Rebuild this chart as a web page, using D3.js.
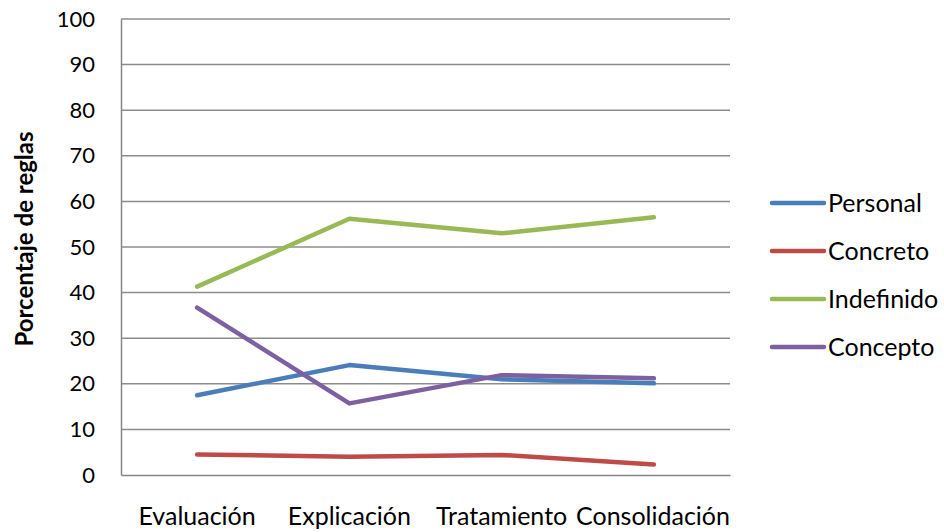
<!DOCTYPE html>
<html>
<head>
<meta charset="utf-8">
<script src="https://cdn.jsdelivr.net/npm/d3@7"></script>
<style>
  body { margin: 0; background: #fff; }
  text { font-family: Lato, "Open Sans", sans-serif; fill: #000; }
</style>
</head>
<body>
<svg id="chart" width="944" height="532"></svg>
<script>
// chart data
var categories = ['Evaluación', 'Explicación', 'Tratamiento', 'Consolidación'];
var seriesNames = ['Personal', 'Concreto', 'Indefinido', 'Concepto'];
var personal = [17.5, 24.1, 21.0, 20.1];
var concreto = [4.5, 4.0, 4.4, 2.3];
var indefinido = [41.3, 56.2, 53.0, 56.5];
var concepto = [36.7, 15.7, 21.9, 21.2];
var yTicks = [0, 10, 20, 30, 40, 50, 60, 70, 80, 90, 100];
var colors = ['#4A7EBB', '#BE4B48', '#98B954', '#7D60A0'];

var series = [personal, concreto, indefinido, concepto].map(function (vals, i) {
  return {name: seriesNames[i], values: vals, color: colors[i]};
});

var margin = {top: 19, left: 121, right: 214, bottom: 57};
var width = 944 - margin.left - margin.right;
var height = 532 - margin.top - margin.bottom;

var svg = d3.select('#chart');
var g = svg.append('g')
  .attr('transform', 'translate(' + margin.left + ',' + margin.top + ')');

var x = d3.scaleBand().domain(categories).range([0, width]);
var y = d3.scaleLinear().domain([0, 100]).range([height, 0]);

// gridlines
g.selectAll('.grid')
  .data(yTicks.slice(1))
  .enter()
  .append('line')
  .attr('x1', 0)
  .attr('x2', width)
  .attr('y1', d => y(d))
  .attr('y2', d => y(d))
  .attr('stroke', '#8c8c8c')
  .attr('stroke-width', 1.5);

// y axis
var yAxis = g.append('g')
  .call(d3.axisLeft(y).tickValues(yTicks).tickSize(0).tickPadding(26));
yAxis.select('.domain').attr('stroke', '#868686').attr('stroke-width', 1.5);
yAxis.selectAll('text')
  .style('font-size', '22px')
  .style('font-family', 'Lato, sans-serif');

// x axis
var xAxis = g.append('g')
  .attr('transform', 'translate(0,' + height + ')')
  .call(d3.axisBottom(x).tickSize(0).tickPadding(32));
xAxis.select('.domain').attr('stroke', '#868686').attr('stroke-width', 1.5);
xAxis.selectAll('text')
  .style('font-size', '25px')
  .style('font-family', 'Lato, sans-serif');

// keep the last label inside the plot, push earlier ones left if they collide
var labels = xAxis.selectAll('.tick').nodes();
var limit = width;
for (var i = labels.length - 1; i >= 0; i--) {
  var t = d3.select(labels[i]).select('text');
  var w = t.node().getComputedTextLength();
  var cx = x(categories[i]) + x.bandwidth() / 2;
  var shift = Math.min(0, limit - (cx + w / 2));
  t.attr('x', shift);
  limit = cx + shift - w / 2 - 8;
}

// y axis title
svg.append('text')
  .attr('transform', 'translate(33,239) rotate(-90)')
  .attr('text-anchor', 'middle')
  .style('font-size', '24px')
  .style('font-weight', 'bold')
  .text('Porcentaje de reglas');

// lines
var line = d3.line()
  .x((d, i) => x(categories[i]) + x.bandwidth() / 2)
  .y(d => y(d));

g.selectAll('.series')
  .data(series)
  .enter()
  .append('path')
  .attr('d', d => line(d.values))
  .attr('fill', 'none')
  .attr('stroke', d => d.color)
  .attr('stroke-width', 4.5)
  .attr('stroke-linecap', 'round')
  .attr('stroke-linejoin', 'round');

// legend
var legend = svg.append('g').attr('transform', 'translate(770,203)');
var items = legend.selectAll('g')
  .data(series)
  .enter()
  .append('g')
  .attr('transform', (d, i) => 'translate(0,' + (i * 48) + ')');
items.append('line')
  .attr('x1', 2).attr('x2', 54)
  .attr('stroke', d => d.color)
  .attr('stroke-width', 4.5)
  .attr('stroke-linecap', 'round');
items.append('text')
  .attr('x', 58)
  .attr('dy', '0.35em')
  .style('font-size', '25px')
  .text(d => d.name);
</script>
</body>
</html>
